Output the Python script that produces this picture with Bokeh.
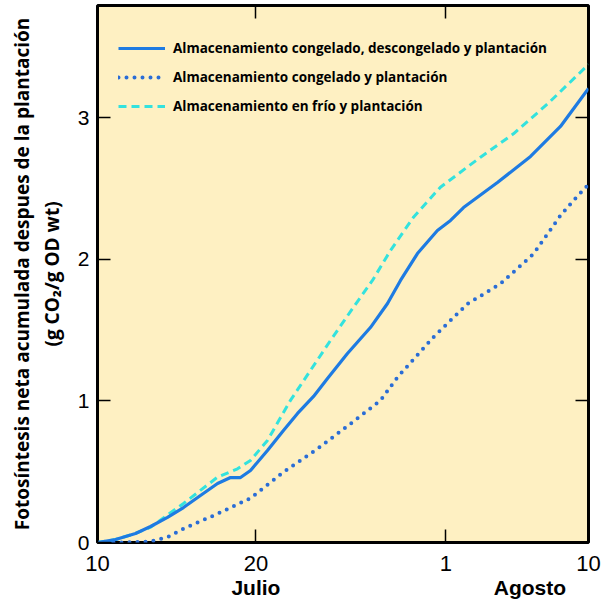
from bokeh.plotting import figure
from bokeh.models import Range1d, LinearAxis, FixedTicker, Legend, LegendItem
from bokeh.embed import file_html
from bokeh.resources import INLINE

# ---- data (x = days since 10 July) ----
series_names = [
    "Almacenamiento congelado, descongelado y plantación",
    "Almacenamiento congelado y plantación",
    "Almacenamiento en frío y plantación",
]

days_solid = [0, 1.14, 2.40, 3.35, 4.42, 5.43, 6.50, 7.58, 8.40, 9.03, 9.66, 10.73, 11.74,
              12.63, 13.64, 14.52, 15.78, 17.23, 18.31, 19.13, 20.20, 21.46, 22.29, 23.11,
              25.25, 27.34, 29.23, 31.0]
y_solid = [0, 0.021, 0.064, 0.113, 0.177, 0.247, 0.332, 0.417, 0.459, 0.459, 0.509, 0.650,
           0.792, 0.912, 1.032, 1.159, 1.336, 1.519, 1.689, 1.852, 2.042, 2.205, 2.276, 2.367,
           2.544, 2.728, 2.940, 3.208]

days_dotted = [0, 1.45, 2.40, 3.35, 4.42, 5.43, 7.58, 9.66, 11.74, 13.89, 15.97, 17.87, 18.94,
               21.21, 23.36, 25.44, 27.53, 29.23, 30.05, 31.0]
y_dotted = [0, 0, 0.004, 0.007, 0.037, 0.097, 0.203, 0.313, 0.497, 0.662, 0.839, 1.004, 1.168,
            1.451, 1.687, 1.828, 2.040, 2.311, 2.417, 2.530]

days_dashed = [0, 1.14, 2.40, 3.35, 5.43, 7.58, 8.84, 9.66, 10.73, 12.18, 14.71, 16.16, 17.36,
               18.50, 19.95, 21.65, 24.18, 26.26, 28.41, 31.0]
y_dashed = [0, 0.021, 0.064, 0.108, 0.276, 0.462, 0.521, 0.580, 0.721, 1.004, 1.428, 1.663,
            1.852, 2.064, 2.299, 2.511, 2.723, 2.888, 3.099, 3.378]

x_ticks = [0, 10, 22, 31]
x_tick_labels = ["10", "20", "1", "10"]
month_pos = [10, 27.3]
month_labels = ["Julio", "Agosto"]
y_ticks = [0, 1, 2, 3]

y_title_1 = "Fotosíntesis neta acumulada despues de la plantación"
y_title_2 = "(g CO\u2082/g OD wt)"

# ---- figure ----
p = figure(width=605, height=607, output_backend="svg", toolbar_location=None,
           x_range=Range1d(0, 31), y_range=Range1d(0, 3.795),
           x_axis_type=None, y_axis_type=None,
           min_border_left=97, min_border_right=17, min_border_top=5, min_border_bottom=65)
p.background_fill_color = "#FEF0C2"
p.border_fill_color = "white"
p.outline_line_color = "black"
p.outline_line_width = 3

TICK_FONT = "Liberation Sans"
BOLD_FONT = "Open Sans"


def style_ticks(ax, ticks):
    ax.ticker = FixedTicker(ticks=ticks)
    ax.axis_line_color = None
    ax.major_tick_in = 13
    ax.major_tick_out = 0
    ax.major_tick_line_color = "black"
    ax.major_tick_line_width = 1.5
    ax.minor_tick_line_color = None


def hide_labels(ax, ticks):
    ax.major_label_overrides = {t: "" for t in ticks}
    ax.major_label_text_font_size = "1px"
    ax.major_label_standoff = 0


# bottom axis with day labels
xb = LinearAxis()
style_ticks(xb, x_ticks)
xb.major_label_overrides = {t: l for t, l in zip(x_ticks, x_tick_labels)}
xb.major_label_text_font = TICK_FONT
xb.major_label_text_font_size = "22px"
xb.major_label_text_color = "black"
xb.major_label_standoff = 13
p.add_layout(xb, "below")

# bottom month labels
xm = LinearAxis()
xm.ticker = FixedTicker(ticks=month_pos)
xm.major_label_overrides = {t: l for t, l in zip(month_pos, month_labels)}
xm.axis_line_color = None
xm.major_tick_line_color = None
xm.minor_tick_line_color = None
xm.major_tick_in = 0
xm.major_tick_out = 0
xm.major_label_text_font = "Liberation Sans"
xm.major_label_text_font_style = "bold"
xm.major_label_text_font_size = "21px"
xm.major_label_text_color = "black"
xm.major_label_standoff = 2
p.add_layout(xm, "below")

# top axis (ticks only)
xt = LinearAxis()
style_ticks(xt, x_ticks)
hide_labels(xt, x_ticks)
p.add_layout(xt, "above")

# left axis
yl = LinearAxis()
style_ticks(yl, y_ticks)
yl.major_label_text_font = TICK_FONT
yl.major_label_text_font_size = "21px"
yl.major_label_text_color = "black"
yl.major_label_standoff = 8
yl.axis_label = y_title_2
yl.axis_label_text_font = BOLD_FONT
yl.axis_label_text_font_style = "bold"
yl.axis_label_text_font_size = "19px"
yl.axis_label_text_color = "black"
yl.axis_label_standoff = 10
p.add_layout(yl, "left")

# outer left axis: first title line
yl2 = LinearAxis()
yl2.ticker = FixedTicker(ticks=[])
yl2.axis_line_color = None
yl2.major_tick_line_color = None
yl2.minor_tick_line_color = None
yl2.major_tick_in = 0
yl2.major_tick_out = 0
yl2.major_label_standoff = 0
yl2.major_label_text_font_size = "1px"
yl2.axis_label = y_title_1
yl2.axis_label_text_font = BOLD_FONT
yl2.axis_label_text_font_style = "bold"
yl2.axis_label_text_font_size = "19px"
yl2.axis_label_text_color = "black"
yl2.axis_label_standoff = 1
p.add_layout(yl2, "left")

# right axis (ticks only)
yr = LinearAxis()
style_ticks(yr, y_ticks)
hide_labels(yr, y_ticks)
p.add_layout(yr, "right")

# ---- series ----
r_dash = p.line(days_dashed, y_dashed, line_color="#33E2DE", line_width=3, line_dash="8 5")
r_dot = p.line(days_dotted, y_dotted, line_color="#2A6DD6", line_width=4,
               line_dash="0 8", line_cap="round")
r_solid = p.line(days_solid, y_solid, line_color="#1E7BE2", line_width=3.2)

legend = Legend(items=[LegendItem(label=series_names[0], renderers=[r_solid]),
                       LegendItem(label=series_names[1], renderers=[r_dot]),
                       LegendItem(label=series_names[2], renderers=[r_dash])],
                location=(21, 426))
legend.border_line_color = None
legend.background_fill_alpha = 0
legend.label_text_font = BOLD_FONT
legend.label_text_font_style = "bold"
legend.label_text_font_size = "13.5px"
legend.label_text_color = "black"
legend.glyph_width = 47
legend.glyph_height = 20
legend.label_height = 20
legend.spacing = 9
legend.padding = 0
legend.margin = 0
legend.label_standoff = 8
p.add_layout(legend)

open("out.html", "w").write(file_html(p, INLINE))
